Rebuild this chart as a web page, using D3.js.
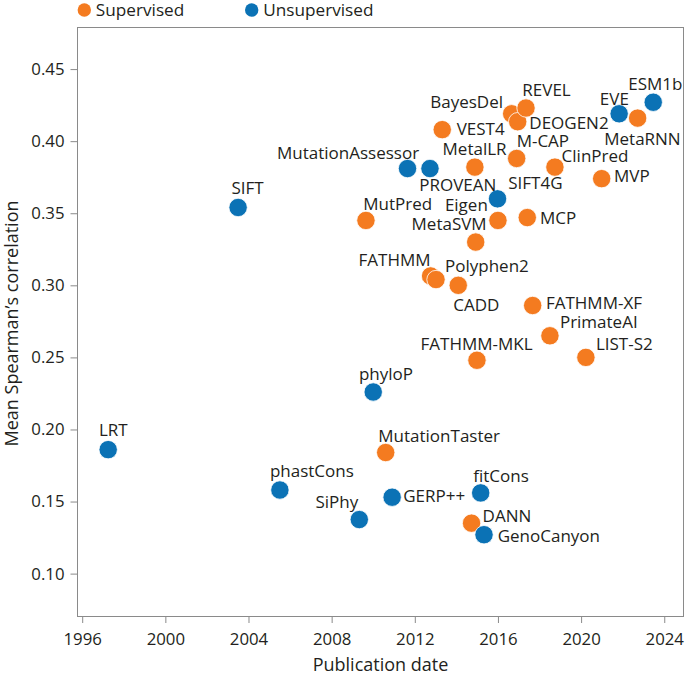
<!DOCTYPE html>
<html>
<head>
<meta charset="utf-8">
<script src="https://cdn.jsdelivr.net/npm/d3@7"></script>
<style>
  html, body { margin: 0; padding: 0; background: #fff; }
  svg { display: block; }
  text { font-family: "Open Sans", "DejaVu Sans", Arial, sans-serif; fill: #231f20; }
</style>
</head>
<body>
<div id="chart"></div>
<script>
// ---- Data ----
const names = ["SIFT4G","LRT","SIFT","phastCons","SiPhy","GERP++","phyloP","MutationTaster","MutPred",
  "MutationAssessor","PROVEAN","VEST4","MetalLR","","FATHMM","Polyphen2","CADD","FATHMM-MKL",
  "DANN","GenoCanyon","fitCons","Eigen","MetaSVM","BayesDel","DEOGEN2","REVEL","M-CAP","MCP",
  "FATHMM-XF","ClinPred","PrimateAI","LIST-S2","MVP","EVE","MetaRNN","ESM1b"];
const years = [2016.9,1997.25,2003.5,2005.51,2009.33,2010.91,2010.0,2010.6,2009.65,
  2011.65,2012.73,2013.32,2014.89,2014.93,2012.76,2013.02,2014.09,2014.99,
  2014.73,2015.33,2015.17,2015.98,2016.0,2016.66,2016.95,2017.35,2016.9,2017.41,
  2017.67,2018.74,2018.5,2020.23,2020.99,2021.83,2022.72,2023.47];
const scores = [0.388,0.186,0.354,0.158,0.1375,0.153,0.226,0.184,0.345,
  0.381,0.381,0.408,0.382,0.330,0.3065,0.304,0.300,0.248,
  0.135,0.127,0.156,0.360,0.345,0.419,0.4135,0.423,0.388,0.347,
  0.286,0.382,0.265,0.250,0.374,0.419,0.416,0.427];
const types = ["Unsupervised","Unsupervised","Unsupervised","Unsupervised","Unsupervised","Unsupervised","Unsupervised","Supervised","Supervised",
  "Unsupervised","Unsupervised","Supervised","Supervised","Supervised","Supervised","Supervised","Supervised","Supervised",
  "Supervised","Unsupervised","Unsupervised","Unsupervised","Supervised","Supervised","Supervised","Supervised","Supervised","Supervised",
  "Supervised","Supervised","Supervised","Supervised","Supervised","Unsupervised","Supervised","Unsupervised"];
const categories = ["Supervised","Unsupervised"];
const xTickValues = [1996,2000,2004,2008,2012,2016,2020,2024];
const yTickValues = [0.10,0.15,0.20,0.25,0.30,0.35,0.40,0.45];

// ---- Label layout (offsets from point centre, px) ----
const labelLayout = {
  "SIFT4G":[-8.4,30.7,"start"], "LRT":[-9.3,-13.3,"start"], "SIFT":[-6.6,-13.4,"start"],
  "phastCons":[-10,-12.7,"start"], "SiPhy":[-1,-11.6,"end"], "GERP++":[11,5,"start"],
  "phyloP":[-14.3,-11.7,"start"], "MutationTaster":[-7.4,-11,"start"], "MutPred":[-2.7,-10.7,"start"],
  "MutationAssessor":[11.6,-10,"end"], "PROVEAN":[-10.7,22.7,"start"], "VEST4":[14.4,5,"start"],
  "MetalLR":[31.7,-11.7,"end"], "FATHMM":[0,-10,"end"], "Polyphen2":[9,-7.6,"start"],
  "CADD":[-5,25.7,"start"], "FATHMM-MKL":[55.7,-10.7,"end"], "DANN":[11,-1.6,"start"],
  "GenoCanyon":[13.7,7.4,"start"], "fitCons":[-7.4,-11,"start"], "Eigen":[-9.7,11.7,"end"],
  "MetaSVM":[-11.3,9.7,"end"], "BayesDel":[-8.7,-6,"end"], "DEOGEN2":[11.6,7.6,"start"],
  "REVEL":[-3.7,-11.6,"start"], "M-CAP":[0,-11.6,"start"], "MCP":[12.7,6.7,"start"],
  "FATHMM-XF":[13.3,4,"start"], "ClinPred":[6.7,-5,"start"], "PrimateAI":[10,-7.7,"start"],
  "LIST-S2":[10,-7,"start"], "MVP":[12.3,3.4,"start"], "EVE":[-19.3,-9,"start"],
  "MetaRNN":[-33.4,26.7,"start"], "ESM1b":[-25,-12.7,"start"]
};

const W = 685, H = 678;
const box = {left: 77, top: 27, right: 684, bottom: 616};
const colors = {"Supervised": "#F47B20", "Unsupervised": "#0B72B5"};
const FONT = '"Open Sans", "DejaVu Sans", Arial, sans-serif';

const svg = d3.select("#chart").append("svg").attr("width", W).attr("height", H);
svg.append("rect").attr("width", W).attr("height", H).attr("fill", "#fff");

const x = d3.scaleLinear().domain([1995.75, 2024.95]).range([box.left, box.right]);
const y = d3.scaleLinear().domain([0.0706, 0.4792]).range([box.bottom, box.top]);
const color = d3.scaleOrdinal().domain(categories).range(categories.map(c => colors[c]));

// axes
const xAxis = d3.axisBottom(x).tickValues(xTickValues).tickFormat(d3.format("d"))
  .tickSize(7).tickSizeOuter(0).tickPadding(10.5);
const yAxis = d3.axisLeft(y).tickValues(yTickValues).tickFormat(d3.format(".2f"))
  .tickSize(6.5).tickSizeOuter(0).tickPadding(6);

const gx = svg.append("g").attr("transform", `translate(0,${box.bottom})`).call(xAxis);
const gy = svg.append("g").attr("transform", `translate(${box.left},0)`).call(yAxis);
[gx, gy].forEach(g => {
  g.select(".domain").remove();
  g.selectAll(".tick line").attr("stroke", "#8a8a8a").attr("stroke-width", 1);
  g.selectAll(".tick text").attr("font-size", 16.8).attr("fill", "#231f20")
    .style("font-family", FONT);
});

// frame
svg.append("rect")
  .attr("x", box.left + 0.5).attr("y", box.top + 0.5)
  .attr("width", box.right - box.left - 1).attr("height", box.bottom - box.top)
  .attr("fill", "none").attr("stroke", "#8a8a8a").attr("stroke-width", 1);

// axis titles
svg.append("text").attr("x", (box.left + box.right) / 2).attr("y", 671)
  .attr("text-anchor", "middle").attr("font-size", 18).text("Publication date");
svg.append("text").attr("transform", `translate(17.5,${(box.top + box.bottom) / 2 + 2}) rotate(-90)`)
  .attr("text-anchor", "middle").attr("font-size", 18).text("Mean Spearman\u2019s correlation");

// points
const data = names.map((n, i) => ({name: n, year: years[i], score: scores[i], type: types[i]}));
svg.append("g").selectAll("circle").data(data).join("circle")
  .attr("cx", d => x(d.year)).attr("cy", d => y(d.score)).attr("r", 9.2)
  .attr("fill", d => color(d.type)).attr("stroke", "#fff").attr("stroke-width", 0.8);

// labels
svg.append("g").selectAll("text").data(data.filter(d => d.name && labelLayout[d.name])).join("text")
  .attr("x", d => x(d.year) + labelLayout[d.name][0])
  .attr("y", d => y(d.score) + labelLayout[d.name][1])
  .attr("text-anchor", d => labelLayout[d.name][2])
  .attr("font-size", 17).text(d => d.name);

// legend
const leg = svg.append("g");
const legX = [84.3, 251.7];
categories.forEach((c, i) => {
  leg.append("circle").attr("cx", legX[i]).attr("cy", 10).attr("r", 6.7).attr("fill", colors[c]);
  leg.append("text").attr("x", legX[i] + 11.5).attr("y", 15.5).attr("font-size", 17.2).text(c);
});
</script>
</body>
</html>
